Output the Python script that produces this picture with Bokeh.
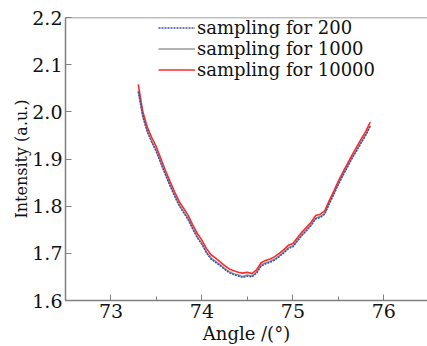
from bokeh.plotting import figure
from bokeh.models import Legend, LegendItem, Span, Range1d, FixedTicker, NumeralTickFormatter
from bokeh.embed import file_html
from bokeh.resources import INLINE

angle = [73.30, 73.35, 73.40, 73.45, 73.50, 73.55, 73.60, 73.65, 73.70, 73.75,
         73.80, 73.85, 73.90, 73.95, 74.00, 74.05, 74.10, 74.15, 74.20, 74.25,
         74.30, 74.35, 74.40, 74.45, 74.50, 74.55, 74.60, 74.65, 74.70, 74.75,
         74.80, 74.85, 74.90, 74.95, 75.00, 75.05, 75.10, 75.15, 75.20, 75.25,
         75.30, 75.35, 75.40, 75.45, 75.50, 75.55, 75.60, 75.65, 75.70, 75.75,
         75.80, 75.85]

s200 = [2.043, 1.990, 1.957, 1.935, 1.915, 1.890, 1.866, 1.843, 1.821, 1.801,
        1.786, 1.771, 1.751, 1.733, 1.719, 1.701, 1.688, 1.681, 1.674, 1.666,
        1.659, 1.655, 1.652, 1.649, 1.652, 1.650, 1.658, 1.673, 1.678, 1.681,
        1.686, 1.693, 1.701, 1.710, 1.714, 1.726, 1.738, 1.748, 1.759, 1.773,
        1.776, 1.783, 1.805, 1.825, 1.846, 1.865, 1.883, 1.901, 1.917, 1.934,
        1.950, 1.969]

s1000 = [2.045, 1.992, 1.959, 1.937, 1.917, 1.892, 1.868, 1.845, 1.823, 1.803,
         1.788, 1.773, 1.753, 1.735, 1.721, 1.703, 1.690, 1.683, 1.676, 1.668,
         1.661, 1.657, 1.654, 1.651, 1.654, 1.652, 1.660, 1.675, 1.680, 1.683,
         1.688, 1.695, 1.703, 1.712, 1.716, 1.728, 1.740, 1.750, 1.761, 1.775,
         1.778, 1.785, 1.807, 1.827, 1.848, 1.867, 1.885, 1.903, 1.919, 1.936,
         1.952, 1.971]

s10000 = [2.058, 2.000, 1.967, 1.945, 1.925, 1.900, 1.875, 1.852, 1.830, 1.810,
          1.795, 1.780, 1.760, 1.742, 1.728, 1.710, 1.697, 1.690, 1.682, 1.674,
          1.667, 1.663, 1.660, 1.658, 1.660, 1.657, 1.665, 1.680, 1.685, 1.688,
          1.693, 1.700, 1.708, 1.717, 1.721, 1.733, 1.745, 1.755, 1.766, 1.780,
          1.783, 1.790, 1.812, 1.832, 1.853, 1.872, 1.890, 1.908, 1.925, 1.942,
          1.958, 1.978]

labels = ["sampling for 200", "sampling for 1000", "sampling for 10000"]
x_ticks = [73, 74, 75, 76]
x_minor = [72.5, 73.5, 74.5, 75.5, 76.5]
y_ticks = [1.6, 1.7, 1.8, 1.9, 2.0, 2.1, 2.2]

FONT = "DejaVu Serif"
AX = "#808080"

p = figure(width=427, height=346, output_backend="svg", toolbar_location=None,
           x_range=Range1d(72.5, 76.48), y_range=Range1d(1.6, 2.2),
           min_border_left=65, min_border_right=0, min_border_top=17,
           min_border_bottom=46)
p.outline_line_color = None
p.grid.grid_line_color = None
p.background_fill_color = "white"

r_gray = p.line(angle, s1000, line_color="#9a9a9a", line_width=1.5)
r_red = p.line(angle, s10000, line_color="#ff2a2a", line_width=1.6)
r_blue = p.line(angle, s200, line_color="#3a55a8", line_width=1.6, line_dash="2 1")

p.xaxis.ticker = FixedTicker(ticks=x_ticks, minor_ticks=x_minor)
p.yaxis.ticker = FixedTicker(ticks=y_ticks)
p.yaxis.formatter = NumeralTickFormatter(format="0.0")
for ax in (p.xaxis[0], p.yaxis[0]):
    ax.axis_line_color = AX
    ax.axis_line_width = 1.5
    ax.major_tick_line_color = AX
    ax.minor_tick_line_color = AX
    ax.major_tick_in = 6
    ax.major_tick_out = 0
    ax.minor_tick_in = 4
    ax.minor_tick_out = 0
    ax.major_label_text_font = FONT
    ax.major_label_text_font_size = "19px"
    ax.major_label_text_color = "#111111"
    ax.axis_label_text_font = FONT
    ax.axis_label_text_font_style = "normal"
    ax.axis_label_text_color = "#111111"
    ax.major_label_standoff = 3
    ax.axis_label_standoff = 2
p.xaxis.axis_label_text_font_size = "18px"
p.yaxis.axis_label_text_font_size = "16px"
p.yaxis.axis_label_standoff = -2
p.yaxis.minor_tick_line_color = None
p.xaxis.axis_label = "Angle /(°)"
p.yaxis.axis_label = "Intensity (a.u.)"

p.add_layout(Span(location=2.2, dimension="width", line_color=AX, line_width=1.5))

legend = Legend(items=[LegendItem(label=labels[0], renderers=[r_blue]),
                       LegendItem(label=labels[1], renderers=[r_gray]),
                       LegendItem(label=labels[2], renderers=[r_red])],
                location=(93, 220), border_line_color=None,
                background_fill_alpha=0, padding=0, margin=0, spacing=-4,
                glyph_width=37, glyph_height=21, label_height=21,
                label_standoff=2, label_text_font=FONT,
                label_text_font_size="18px", label_text_color="#111111")
p.add_layout(legend)

open("out.html", "w").write(file_html(p, INLINE))
